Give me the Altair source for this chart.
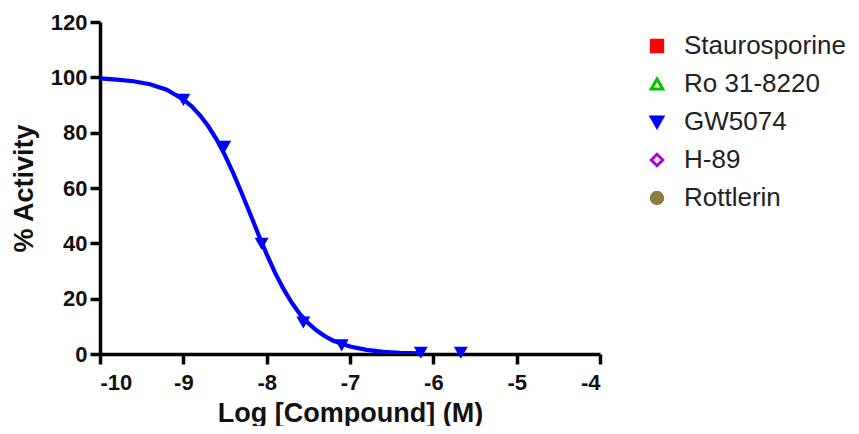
import altair as alt
import pandas as pd

# Legend categories
compounds = ["Staurosporine", "Ro 31-8220", "GW5074", "H-89", "Rottlerin"]
colors = ["#ff0000", "#00c000", "#0000ff", "#b000e0", "#8b7d3a"]
fills = ["#ff0000", "#ffffff", "#0000ff", "#ffffff", "#8b7d3a"]
shapes = ["square", "triangle-up", "triangle-down", "diamond", "circle"]

# GW5074 measured points
pt_x = [-9.0, -8.51, -8.06, -7.56, -7.10, -6.15, -5.67]
pt_y = [92.0, 75.0, 40.0, 11.5, 3.3, 0.6, 0.6]

# GW5074 fitted curve
curve_x = [-10.0, -9.8, -9.6, -9.4, -9.2, -9.0, -8.9, -8.8, -8.7, -8.6, -8.5,
           -8.4, -8.3, -8.2, -8.1, -8.0, -7.9, -7.8, -7.7, -7.6, -7.5, -7.4,
           -7.3, -7.2, -7.0, -6.8, -6.6, -6.4, -6.15]
curve_y = [99.6, 99.2, 98.6, 97.5, 95.5, 92.0, 89.5, 86.3, 82.3, 77.5, 71.8,
           65.3, 58.2, 50.8, 43.3, 36.1, 29.4, 23.6, 18.6, 14.4, 11.1, 8.5,
           6.4, 4.8, 2.7, 1.5, 0.8, 0.45, 0.2]

x_ticks = [-10, -9, -8, -7, -6, -5, -4]
y_ticks = [0, 20, 40, 60, 80, 100, 120]

pts = pd.DataFrame({"x": pt_x, "y": pt_y, "compound": ["GW5074"] * len(pt_x)})
crv = pd.DataFrame({"x": curve_x, "y": curve_y, "compound": ["GW5074"] * len(curve_x)})

FONT = "Liberation Sans"

xscale = alt.Scale(domain=[-10, -4], nice=False, zero=False)
yscale = alt.Scale(domain=[0, 120], nice=False)

xaxis = alt.Axis(values=x_ticks, title="Log [Compound] (M)", grid=False,
                 labelExpr="'' + datum.value",
                 domainColor="black", domainWidth=3.5, tickColor="black", tickWidth=3.5,
                 tickSize=10, labelFont=FONT, labelFontSize=22, labelFontWeight="bold",
                 labelColor="#111", labelPadding=8, titleFont=FONT, titleFontSize=27,
                 titleFontWeight="bold", titleColor="#111", titlePadding=7)
yaxis = alt.Axis(values=y_ticks, title="% Activity", grid=False,
                 labelExpr="'' + datum.value",
                 domainColor="black", domainWidth=3.5, tickColor="black", tickWidth=3.5,
                 tickSize=10, labelFont=FONT, labelFontSize=22, labelFontWeight="bold",
                 labelColor="#111", labelPadding=3, titleFont=FONT, titleFontSize=27,
                 titleFontWeight="bold", titleColor="#111", titlePadding=12)

line = alt.Chart(crv).mark_line(color="#0000ff", strokeWidth=4.2, clip=True).encode(
    x=alt.X("x:Q", scale=xscale, axis=xaxis),
    y=alt.Y("y:Q", scale=yscale, axis=yaxis),
    detail="compound:N",
)

legend = alt.Legend(orient="none", legendX=544, legendY=11, title=None,
                    labelFont=FONT, labelFontSize=26, labelColor="#222",
                    labelLimit=400,
                    symbolSize=130, symbolStrokeWidth=3, rowPadding=12,
                    labelOffset=14)

points = alt.Chart(pts).mark_point(size=130, strokeWidth=1.5, opacity=1).encode(
    x=alt.X("x:Q", scale=xscale),
    y=alt.Y("y:Q", scale=yscale),
    stroke=alt.Stroke("compound:N", scale=alt.Scale(domain=compounds, range=colors), legend=legend),
    fill=alt.Fill("compound:N", scale=alt.Scale(domain=compounds, range=fills), legend=legend),
    shape=alt.Shape("compound:N", scale=alt.Scale(domain=compounds, range=shapes), legend=legend),
)

chart = alt.layer(line, points).properties(
    width=500, height=332,
    background="white",
    autosize=alt.AutoSizeParams(type="none"),
    padding={"left": 92, "top": 14, "right": 251, "bottom": 72},
).configure_view(stroke=None)

chart.save("out.html", embed_options={"renderer": "svg", "actions": False})
